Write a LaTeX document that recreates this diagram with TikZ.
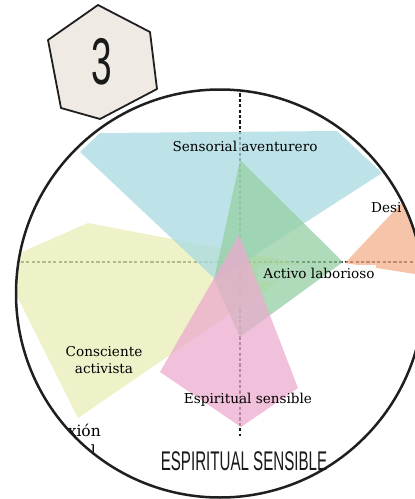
\documentclass[tikz,border=0pt]{standalone}
\usepackage{fontspec}
\setmainfont{DejaVu Serif}
\newfontfamily\titlefont{Liberation Sans}
\begin{document}
\begin{tikzpicture}[x=1pt,y=-1pt,
  ink/.style={draw=black!88},
  axis/.style={draw=black!90, line width=1.7pt, dash pattern=on 3.2pt off 2.2pt},
  profile/.style={fill opacity=0.75, draw=none},
  lbl/.style={font=\fontsize{13.6}{16.5}\selectfont, text=black, inner sep=0pt, align=center},
  big/.style={inner sep=0pt, text=black!90}]
\definecolor{cblue}{RGB}{167,218,226}
\definecolor{cyel}{RGB}{233,238,182}
\definecolor{cgreen}{RGB}{150,207,163}
\definecolor{cpink}{RGB}{236,171,206}
\definecolor{corange}{RGB}{243,176,139}
\definecolor{hexfill}{RGB}{239,234,227}
\path[use as bounding box] (0,0) rectangle (415,499);

% wheel centre and axis ends
\coordinate (c) at (220,293.5);
\coordinate (vtop) at (240,88);
\coordinate (vbot) at (240,436);
\coordinate (hl) at (10,262);
\coordinate (hr) at (430,262);

\begin{scope}
  \clip (c) circle (204);
  % axes
  \draw[axis] (vtop) -- (vbot);
  \draw[axis] (hl) -- (hr);
  % profiles
  \fill[profile, cyel] (8,258) -- (88,223) -- (303,264) -- (78,418) -- (12,286) -- cycle;
  \fill[profile, cblue] (80,152) -- (100,133) -- (337,131) -- (382,173) -- (216,280) -- cycle;
  \fill[profile, corange] (345,263) -- (412,192) -- (440,188) -- (440,278) -- cycle;
  % white plate under the green profile's label
  \fill[white] (258,265) rectangle (376,281);
  \fill[profile, cgreen] (240,160) -- (343,262) -- (240,337) -- (214,280) -- cycle;
  \fill[profile, cpink] (160,372) -- (239,235) -- (298,388) -- (241,427) -- cycle;
  % labels
  \node[lbl] (sens) at (245,146) {Sensorial aventurero};
  \node[lbl] (act) at (319,273) {Activo laborioso};
  \node[lbl] (cons) at (104,360) {Consciente\\activista};
  \node[lbl] (esp) at (248,400) {Espiritual sensible};
  \node[lbl, anchor=west] (des) at (371,208) {Desi};
  \node[lbl, anchor=east, font=\fontsize{15.5}{18}\selectfont] (xion) at (101,430) {xión};
  \node[lbl, anchor=east, font=\fontsize{15.5}{18}\selectfont] (ll) at (96,451) {l};
\end{scope}

% outer ring
\draw[ink, line width=2.5pt] (c) circle (204);

% quadrant title
\node[big] (title) at (244,461) {\titlefont\scalebox{0.56}[1]{\fontsize{27}{29}\selectfont ESPIRITUAL SENSIBLE}};

% number badge
\draw[ink, fill=hexfill, line width=1.8pt, line join=round]
  (98,5) -- (150,32) -- (157,89) -- (100,119) -- (61,108) -- (48,40) -- cycle;
\node[big] (num) at (102,62) {\titlefont\scalebox{0.56}[1]{\fontsize{66}{68}\selectfont 3}};
\end{tikzpicture}
\end{document}
